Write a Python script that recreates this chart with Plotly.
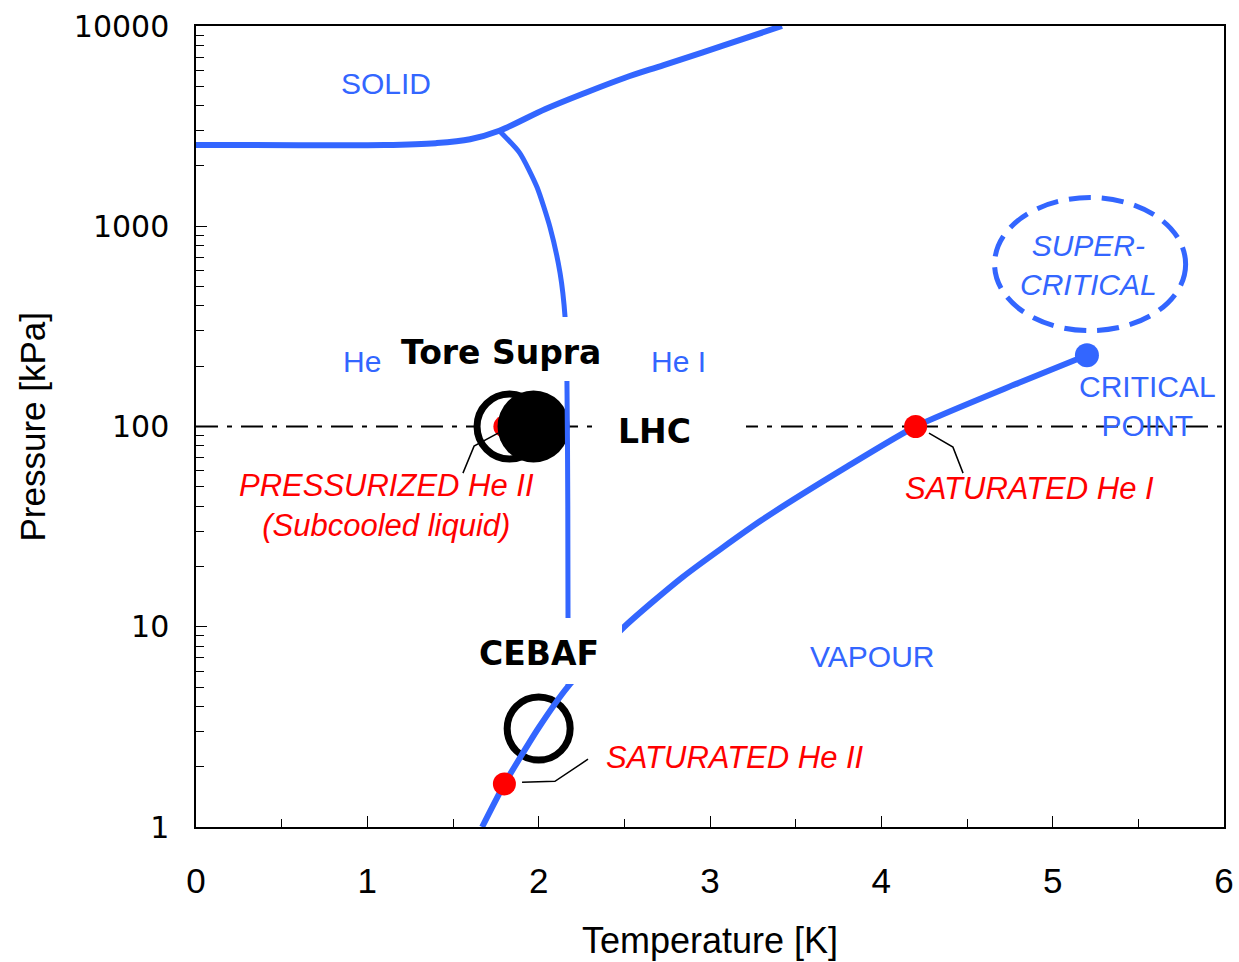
import plotly.graph_objects as go

BLUE = "#3366FF"
RED = "#FF0000"

# ---- data (T in K, P in kPa) ----
melt_T = [0.0, 0.6, 1.1, 1.4, 1.6, 1.77, 2.04, 2.27, 2.5, 2.73, 3.08, 3.42]
melt_P = [2547, 2540, 2545, 2600, 2720, 3000, 3850, 4630, 5500, 6380, 8000, 10000]

lambda_T = [1.77, 1.89, 1.99, 2.066, 2.125, 2.154, 2.165, 2.170, 2.172]
lambda_P = [3000, 2320, 1570, 990, 583, 352, 169, 40, 5.04]

sat_T = [1.67, 1.8, 2.0, 2.172, 2.5, 2.84, 3.3, 3.8, 4.2, 4.8, 5.2]
sat_P = [1.0, 1.64, 3.13, 5.04, 10.0, 17.7, 34.0, 63.0, 100.0, 165.0, 227.0]

ref_T = [0.0, 6.0]
ref_P = [100.0, 100.0]

crit_T = [5.2]
crit_P = [227.0]

red_T = [1.8, 1.8, 4.2]
red_P = [100.0, 1.64, 100.0]

tore_T, tore_P = [1.83], [100.0]
lhc_T, lhc_P = [1.97], [100.0]
cebaf_T, cebaf_P = [2.0], [3.1]

lead1_T = [1.763, 1.623, 1.558]
lead1_P = [92.7, 79.8, 58.5]
lead2_T = [1.903, 2.095, 2.288]
lead2_P = [1.675, 1.69, 2.18]
lead3_T = [4.278, 4.418, 4.477]
lead3_P = [92.7, 78.9, 58.5]

super_T = [4.661, 5.776]
super_P = [301, 1390]

x_ticks = [0, 1, 2, 3, 4, 5, 6]
y_ticks = [1, 10, 100, 1000, 10000]
y_ticktext = ["1", "10", "100", "1000", "10000"]

# ---- layout geometry and pixel helpers for annotation placement ----
W, H = 1239, 962
PL, PT, PR, PB = 196, 26, 1224, 827

def px_T(px):
    return (px - 196) / 171.333

def px_L(py):
    return 4 - (py - 26) / 200.25

fig = go.Figure()

fig.add_trace(go.Scatter(x=ref_T, y=ref_P, mode="lines",
                         line=dict(color="black", width=2, dash="22px,9px,5px,9px")))
fig.add_trace(go.Scatter(x=tore_T, y=tore_P, mode="markers",
                         marker=dict(symbol="circle", size=65, color="white",
                                     line=dict(color="black", width=7))))
fig.add_trace(go.Scatter(x=red_T[:1], y=red_P[:1], mode="markers",
                         marker=dict(size=22, color=RED)))
fig.add_trace(go.Scatter(x=lead1_T, y=lead1_P, mode="lines",
                         line=dict(color="black", width=1.5)))
fig.add_trace(go.Scatter(x=lhc_T, y=lhc_P, mode="markers",
                         marker=dict(symbol="circle", size=72, color="black")))
fig.add_trace(go.Scatter(x=cebaf_T, y=cebaf_P, mode="markers",
                         marker=dict(symbol="circle", size=63, color="white",
                                     line=dict(color="black", width=7))))

fig.add_trace(go.Scatter(x=melt_T, y=melt_P, mode="lines",
                         line=dict(color=BLUE, width=6, shape="spline", smoothing=1.0)))
fig.add_trace(go.Scatter(x=lambda_T, y=lambda_P, mode="lines",
                         line=dict(color=BLUE, width=5, shape="spline", smoothing=0.6)))
fig.add_trace(go.Scatter(x=sat_T, y=sat_P, mode="lines",
                         line=dict(color=BLUE, width=6, shape="spline", smoothing=0.6)))

fig.add_trace(go.Scatter(x=lead2_T, y=lead2_P, mode="lines",
                         line=dict(color="black", width=1.5)))
fig.add_trace(go.Scatter(x=lead3_T, y=lead3_P, mode="lines",
                         line=dict(color="black", width=1.5)))
fig.add_trace(go.Scatter(x=red_T[1:], y=red_P[1:], mode="markers",
                         marker=dict(size=23, color=RED)))
fig.add_trace(go.Scatter(x=crit_T, y=crit_P, mode="markers",
                         marker=dict(size=24, color=BLUE)))

fig.add_shape(type="circle", xref="x", yref="y",
              x0=super_T[0], x1=super_T[1], y0=super_P[0], y1=super_P[1],
              line=dict(color=BLUE, width=5, dash="22px,11px"))

label_font = dict(family="Liberation Sans, Arial, sans-serif", size=30, color=BLUE)
red_font = dict(family="Liberation Sans, Arial, sans-serif", size=31, color=RED)
bold_font = dict(family="DejaVu Sans, sans-serif", size=33, color="black")

ann = []
def text(px, py, s, font, xanchor="center"):
    ann.append(dict(x=px_T(px), y=px_L(py), xref="x", yref="y", text=s,
                    showarrow=False, font=font, xanchor=xanchor, yanchor="middle"))

def mask(px, py, w, h):
    ann.append(dict(x=px_T(px), y=px_L(py), xref="x", yref="y", text=" ",
                    showarrow=False, width=w, height=h, bgcolor="white",
                    borderpad=0, borderwidth=0, xanchor="center", yanchor="middle"))

text(386, 83, "SOLID", label_font)
text(341, 361, "He II", label_font, xanchor="left")
text(678, 361, "He I", label_font)
text(872, 656, "VAPOUR", label_font)
text(1147, 406, "CRITICAL<br>POINT", label_font)
text(1088, 265, "<i>SUPER-<br>CRITICAL</i>", label_font)
text(386, 505, "<i>PRESSURIZED He II<br>(Subcooled liquid)</i>", red_font)
text(1029, 488, "<i>SATURATED He I</i>", red_font)
text(735, 757, "<i>SATURATED He II</i>", red_font)

mask(500, 349, 226, 64)
mask(546, 651, 152, 66)
mask(670.5, 430, 151, 54)

text(501, 352, "<b>Tore Supra</b>", bold_font)
text(654, 431, "<b>LHC</b>", bold_font)
text(539, 653, "<b>CEBAF</b>", bold_font)

# axis titles (positioned in paper units relative to the plot area)
plot_w = PR - PL
plot_h = PB - PT
ann.append(dict(x=0.5, y=-(940 - 827) / plot_h, xref="paper", yref="paper",
                text="Temperature [K]", showarrow=False, xanchor="center", yanchor="middle",
                font=dict(family="Liberation Sans, Arial, sans-serif", size=36, color="black")))
ann.append(dict(x=(32 - 196) / plot_w, y=0.5, xref="paper", yref="paper",
                text="Pressure [kPa]", showarrow=False, xanchor="center", yanchor="middle",
                textangle=-90,
                font=dict(family="Liberation Sans, Arial, sans-serif", size=35, color="black")))

minor_y = [m * 10 ** d for d in range(4) for m in range(2, 10)]

fig.update_layout(
    width=W, height=H,
    margin=dict(l=PL, r=W - PR, t=PT, b=H - PB, autoexpand=False),
    paper_bgcolor="white", plot_bgcolor="white",
    showlegend=False,
    annotations=ann,
    xaxis=dict(range=[0, 6], tickvals=x_ticks, ticks="inside", ticklen=11, tickwidth=1.2,
               tickcolor="black", showgrid=False, zeroline=False, automargin=False,
               showline=True, linecolor="black", linewidth=1.5, mirror=True,
               tickfont=dict(family="Liberation Sans, Arial, sans-serif", size=35, color="black"),
               ticklabelstandoff=22,
               minor=dict(dtick=0.5, ticks="inside", ticklen=8, tickcolor="black", showgrid=False)),
    yaxis=dict(type="log", range=[0, 4], tickvals=y_ticks, ticktext=y_ticktext,
               ticks="inside", ticklen=11, tickwidth=1.2, tickcolor="black",
               showgrid=False, zeroline=False, automargin=False,
               showline=True, linecolor="black", linewidth=1.5, mirror=True,
               tickfont=dict(family="DejaVu Sans, sans-serif", size=30, color="black"),
               ticklabelstandoff=19,
               minor=dict(tickvals=minor_y, ticks="inside", ticklen=8, tickcolor="black",
                          showgrid=False)),
)

fig.write_html("out.html",
               config={"displayModeBar": False},
               post_script="document.body.style.margin='0';"
                           "document.body.style.overflow='hidden';")
